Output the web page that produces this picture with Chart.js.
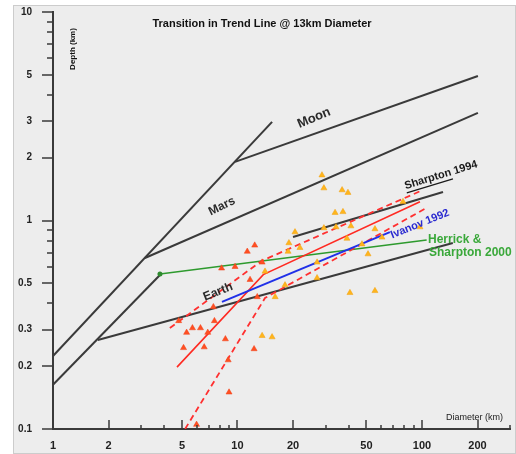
<!DOCTYPE html>
<html>
<head>
<meta charset="utf-8">
<script src="https://cdn.jsdelivr.net/npm/chart.js@4.4.1/dist/chart.umd.min.js"></script>
<style>
  html, body { margin: 0; padding: 0; background: #fff; }
  canvas { display: block; }
</style>
</head>
<body>
<canvas id="craterChart" width="516" height="454"></canvas>
<script>
// axis ticks
const xTickLabels = [1, 2, 5, 10, 20, 50, 100, 200];
const yTickLabels = [0.1, 0.2, 0.3, 0.5, 1, 2, 3, 5, 10];
const xMinorTicks = [3, 4, 6, 7, 8, 9, 30, 40, 60, 70, 80, 90, 300];
const yMinorTicks = [0.4, 0.6, 0.7, 0.8, 0.9, 4, 6, 7, 8, 9];

// measured craters: diameter (km) and depth (km)
const redDiam  = [12.4, 11.3, 8.2, 9.7, 13.6, 11.7, 7.4, 4.8, 5.7, 6.3, 5.3, 6.9, 7.5, 8.6, 5.1, 6.6, 12.3, 8.9, 9.0, 6.0, 12.8];
const redDepth = [0.76, 0.71, 0.59, 0.60, 0.63, 0.52, 0.385, 0.33, 0.305, 0.305, 0.29, 0.29, 0.33, 0.27, 0.245, 0.247, 0.242, 0.214, 0.15, 0.105, 0.43];

const orangeDiam  = [28.7, 29.4, 36.9, 39.7, 33.8, 37.3, 20.5, 29.4, 34.2, 41.2, 55.6, 78.9, 19.0, 21.8, 18.8, 39.2, 47.3, 60.7, 51.0, 27.0, 27.0, 18.1, 40.7, 55.6, 14.1, 16.0, 13.6, 15.4, 97.5];
const orangeDepth = [1.65, 1.43, 1.40, 1.36, 1.09, 1.10, 0.88, 0.92, 0.93, 0.94, 0.91, 1.23, 0.78, 0.74, 0.71, 0.82, 0.77, 0.83, 0.69, 0.63, 0.53, 0.49, 0.45, 0.46, 0.57, 0.43, 0.28, 0.276, 0.93];

// trend lines as [diameter, depth]
const simpleUpper = [[1, 0.224], [15.4, 2.97]];
const simpleLower = [[1, 0.163], [3.8, 0.548]];
const moonLine    = [[9.7, 1.91], [201, 4.93]];
const marsLine    = [[3.15, 0.661], [201, 3.28]];
const earthLine   = [[1.75, 0.267], [147, 0.78]];
const sharpton94  = [[20, 0.833], [130, 1.37]];
const herrick00   = [[3.8, 0.554], [106, 0.806]];
const ivanov92    = [[8.24, 0.407], [67, 0.88]];
const fitLine     = [[4.7, 0.198], [13.8, 0.55], [97.5, 1.23]];
const fitUpper    = [[4.3, 0.305], [13.5, 0.64], [101, 1.40]];
const fitLower    = [[5.2, 0.1], [14.1, 0.425], [106, 1.15]];

// text annotations: [diameter, depth]
const labelAt = {
  moon: [26.0, 3.10],
  mars: [8.24, 1.17],
  earth: [7.84, 0.454],
  sharpton: [126.8, 1.65],
  ivanov: [97.5, 0.962],
  herrick: [107.8, 0.806],
  herrick2: [107.8, 0.698]
};

const FONT = '"Liberation Sans", Arial, sans-serif';
const toPts = pairs => pairs.map(([x, y]) => ({ x: x, y: y }));
const zip = (xs, ys) => xs.map((x, i) => ({ x: x, y: ys[i] }));
const near = (list, v) => list.some(t => Math.abs(t - v) / t < 1e-6);

function trend(label, pairs, color, width, dash) {
  return {
    label: label,
    data: toPts(pairs),
    showLine: true,
    borderColor: color,
    borderWidth: width,
    borderDash: dash || [],
    pointRadius: 0,
    fill: false
  };
}

const decor = {
  id: 'decor',
  beforeDraw(chart) {
    const ctx = chart.ctx;
    ctx.save();
    ctx.fillStyle = '#ffffff';
    ctx.fillRect(0, 0, chart.width, chart.height);
    ctx.fillStyle = '#ededed';
    ctx.fillRect(13, 5, chart.width - 13, chart.height - 5);
    ctx.strokeStyle = '#cccccc';
    ctx.lineWidth = 1;
    ctx.strokeRect(13.5, 5.5, chart.width - 14, chart.height - 6);
    ctx.restore();
  },
  afterDraw(chart) {
    const ctx = chart.ctx;
    const x = chart.scales.x, y = chart.scales.y, a = chart.chartArea;
    ctx.save();
    // tick marks
    ctx.strokeStyle = '#3a3a3a';
    ctx.lineWidth = 1.5;
    ctx.beginPath();
    yTickLabels.forEach(v => { const p = Math.round(y.getPixelForValue(v)); ctx.moveTo(a.left - 11, p); ctx.lineTo(a.left, p); });
    yMinorTicks.forEach(v => { const p = Math.round(y.getPixelForValue(v)); ctx.moveTo(a.left - 6, p); ctx.lineTo(a.left, p); });
    xTickLabels.forEach(v => { const p = Math.round(x.getPixelForValue(v)); ctx.moveTo(p, a.bottom); ctx.lineTo(p, a.bottom - 9); });
    xMinorTicks.forEach(v => { const p = Math.round(x.getPixelForValue(v)); ctx.moveTo(p, a.bottom); ctx.lineTo(p, a.bottom - 4); });
    ctx.stroke();

    // title and axis titles
    ctx.fillStyle = '#111';
    ctx.font = 'bold 11px ' + FONT;
    ctx.textAlign = 'center';
    ctx.textBaseline = 'middle';
    ctx.fillText('Transition in Trend Line @ 13km Diameter', a.left + 209, a.top + 12);

    ctx.font = 'bold 8px ' + FONT;
    ctx.save();
    ctx.translate(a.left + 20, a.top + 37);
    ctx.rotate(-Math.PI / 2);
    ctx.fillText('Depth (km)', 0, 0);
    ctx.restore();

    ctx.font = '9px ' + FONT;
    ctx.textAlign = 'right';
    ctx.fillStyle = '#222';
    ctx.fillText('Diameter (km)', a.right - 7, a.bottom - 11);

    // rotated line labels
    function rotLabel(text, pos, deg, font, color) {
      ctx.save();
      ctx.translate(x.getPixelForValue(pos[0]), y.getPixelForValue(pos[1]));
      ctx.rotate(deg * Math.PI / 180);
      ctx.font = font;
      ctx.fillStyle = color;
      ctx.textAlign = 'center';
      ctx.textBaseline = 'middle';
      ctx.fillText(text, 0, 0);
      ctx.restore();
    }
    rotLabel('Moon', labelAt.moon, -23, 'bold 13px ' + FONT, '#2b2b2b');
    rotLabel('Mars', labelAt.mars, -26, 'bold 12px ' + FONT, '#2b2b2b');
    rotLabel('Earth', labelAt.earth, -22, 'bold 12px ' + FONT, '#2b2b2b');
    rotLabel('Ivanov 1992', labelAt.ivanov, -22, 'bold 11px ' + FONT, '#2a2ad0');

    // Sharpton 1994 with underlined name
    ctx.save();
    ctx.translate(x.getPixelForValue(labelAt.sharpton[0]), y.getPixelForValue(labelAt.sharpton[1]));
    ctx.rotate(-17 * Math.PI / 180);
    ctx.font = 'bold 11px ' + FONT;
    ctx.fillStyle = '#1a1a1a';
    ctx.textBaseline = 'middle';
    const full = ctx.measureText('Sharpton 1994').width;
    const nameW = ctx.measureText('Sharpton').width;
    ctx.textAlign = 'left';
    ctx.fillText('Sharpton 1994', -full / 2, 0);
    ctx.strokeStyle = '#1a1a1a';
    ctx.lineWidth = 1.2;
    ctx.beginPath();
    ctx.moveTo(-full / 2, 7);
    ctx.lineTo(-full / 2 + nameW, 7);
    ctx.stroke();
    ctx.restore();

    ctx.font = 'bold 12px ' + FONT;
    ctx.fillStyle = '#3aa83a';
    ctx.textAlign = 'left';
    ctx.textBaseline = 'middle';
    ctx.fillText('Herrick &', x.getPixelForValue(labelAt.herrick[0]), y.getPixelForValue(labelAt.herrick[1]));
    ctx.fillText('Sharpton 2000', x.getPixelForValue(labelAt.herrick2[0]) + 1, y.getPixelForValue(labelAt.herrick2[1]));
    ctx.restore();
  }
};

const black = '#3a3a3a';

new Chart(document.getElementById('craterChart'), {
  type: 'scatter',
  data: {
    datasets: [
      {
        label: 'Craters (small)',
        data: zip(redDiam, redDepth),
        pointStyle: 'triangle',
        pointRadius: 3.5,
        backgroundColor: '#ff4f22',
        borderColor: '#f04018',
        borderWidth: 0.5
      },
      {
        label: 'Craters (large)',
        data: zip(orangeDiam, orangeDepth),
        pointStyle: 'triangle',
        pointRadius: 3.5,
        backgroundColor: '#ffb51c',
        borderColor: '#f0a010',
        borderWidth: 0.5
      },
      trend('Ivanov 1992', ivanov92, '#2030e8', 2),
      trend('Fit', fitLine, '#ff2a22', 1.6),
      trend('Fit upper', fitUpper, '#ff3030', 1.8, [6, 4]),
      trend('Fit lower', fitLower, '#ff3030', 1.8, [6, 4]),
      Object.assign(trend('Herrick & Sharpton 2000', herrick00, '#2e9a2e', 1.6), {
        pointRadius: [2.5, 0], pointBackgroundColor: '#2e8a2e', pointBorderWidth: 0
      }),
      trend('Sharpton 1994', sharpton94, black, 2),
      trend('Simple upper', simpleUpper, black, 2),
      trend('Simple lower', simpleLower, black, 2),
      trend('Moon', moonLine, black, 2),
      trend('Mars', marsLine, black, 2),
      trend('Earth', earthLine, black, 2)
    ]
  },
  options: {
    responsive: false,
    devicePixelRatio: 1,
    animation: false,
    layout: { autoPadding: false, padding: { top: 12, right: 6, left: 0, bottom: 0 } },
    plugins: {
      legend: { display: false },
      tooltip: { enabled: false }
    },
    scales: {
      x: {
        type: 'logarithmic',
        min: 1,
        max: 300,
        afterFit: s => { s.height = 25; },
        grid: { display: false, drawTicks: true, tickLength: 10 },
        border: { display: true, color: '#3a3a3a', width: 2 },
        ticks: {
          autoSkip: false,
          maxRotation: 0,
          padding: 0,
          color: '#222',
          font: { family: FONT, size: 11, weight: 'bold' },
          callback: v => near(xTickLabels, v) ? String(v) : ''
        }
      },
      y: {
        type: 'logarithmic',
        min: 0.1,
        max: 10,
        afterFit: s => { s.width = 53; },
        grid: { display: false, drawTicks: true, tickLength: 21 },
        border: { display: true, color: '#3a3a3a', width: 2 },
        ticks: {
          autoSkip: false,
          padding: 0,
          color: '#222',
          font: { family: FONT, size: 10, weight: 'bold' },
          callback: v => near(yTickLabels, v) ? String(v) : ''
        }
      }
    }
  },
  plugins: [decor]
});
</script>
</body>
</html>
